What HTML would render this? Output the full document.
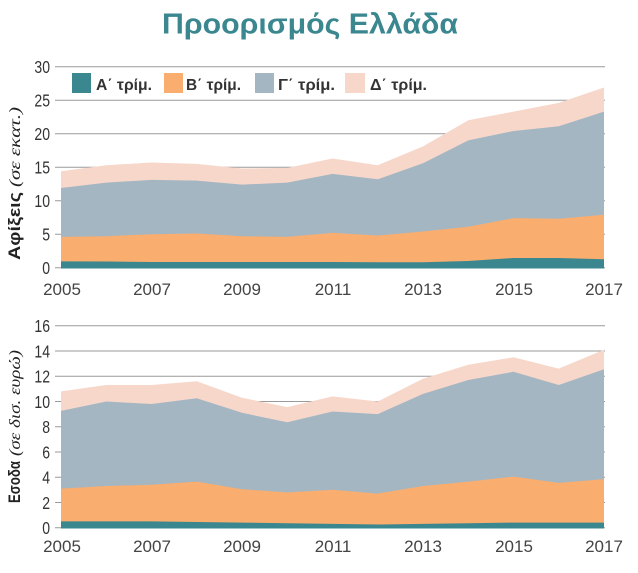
<!DOCTYPE html>
<html><head><meta charset="utf-8"><style>
html,body{margin:0;padding:0;background:#fff;}
svg{display:block;}
.yl{font-family:"Liberation Sans",sans-serif;font-size:18px;fill:#333;}
.xl{font-family:"Liberation Sans",sans-serif;font-size:17px;fill:#444;}
.lg{font-family:"Liberation Sans",sans-serif;font-size:16px;font-weight:bold;fill:#333;}
.at{font-family:"Liberation Sans",sans-serif;font-size:17px;font-weight:bold;fill:#222;}
.ai{font-family:"Liberation Serif",serif;font-size:16px;font-style:italic;fill:#222;}
</style></head><body>
<svg width="638" height="573" viewBox="0 0 638 573" xmlns="http://www.w3.org/2000/svg">
<rect width="638" height="573" fill="#fff"/>
<text x="162" y="33.5" textLength="296" lengthAdjust="spacingAndGlyphs" font-family="Liberation Sans, sans-serif" font-weight="bold" font-size="29" fill="#3b8790">Προορισμός Ελλάδα</text>

<g stroke="#9a9a9a" stroke-width="1">
<line x1="55" y1="66.7" x2="605" y2="66.7"/>
<line x1="55" y1="100.3" x2="605" y2="100.3"/>
<line x1="55" y1="133.7" x2="605" y2="133.7"/>
<line x1="55" y1="167.2" x2="605" y2="167.2"/>
<line x1="55" y1="200.7" x2="605" y2="200.7"/>
<line x1="55" y1="234.2" x2="605" y2="234.2"/>
<line x1="55" y1="267.7" x2="605" y2="267.7"/>
</g>
<polygon fill="#f7d7ca" points="61,267.7 61,171.2 106.25,165.2 151.5,162.5 196.75,163.9 242,168.5 287.25,167.9 332.5,158.5 377.75,165.2 423,146.4 468.25,120.3 513.5,111.6 558.75,102.9 604,87.5 604,267.7"/>
<polygon fill="#a5b6c3" points="61,267.7 61,188.0 106.25,182.6 151.5,179.9 196.75,180.6 242,184.6 287.25,182.6 332.5,173.9 377.75,179.3 423,163.2 468.25,140.4 513.5,131.0 558.75,126.3 604,111.6 604,267.7"/>
<polygon fill="#f9ad6e" points="61,267.7 61,236.9 106.25,236.2 151.5,234.2 196.75,233.5 242,236.2 287.25,236.9 332.5,232.9 377.75,235.5 423,231.5 468.25,226.8 513.5,218.1 558.75,218.8 604,214.8 604,267.7"/>
<polygon fill="#3a8790" points="61,268.5 61,261.4 106.25,261.5 151.5,262.0 196.75,262.0 242,262.0 287.25,262.0 332.5,262.0 377.75,262.3 423,262.3 468.25,261.0 513.5,258.0 558.75,258.0 604,259.3 604,268.5"/>

<g class="yl" text-anchor="end">
<text transform="translate(50,73) scale(0.78,1)">30</text>
<text transform="translate(50,106.6) scale(0.78,1)">25</text>
<text transform="translate(50,140) scale(0.78,1)">20</text>
<text transform="translate(50,173.5) scale(0.78,1)">15</text>
<text transform="translate(50,207) scale(0.78,1)">10</text>
<text transform="translate(50,240.5) scale(0.78,1)">5</text>
<text transform="translate(50,274) scale(0.78,1)">0</text>
</g>
<g class="xl" text-anchor="middle">
<text x="62" y="295">2005</text>
<text x="152" y="295">2007</text>
<text x="242" y="295">2009</text>
<text x="333" y="295">2011</text>
<text x="423" y="295">2013</text>
<text x="514" y="295">2015</text>
<text x="604" y="295">2017</text>
</g>
<rect x="72" y="73" width="19" height="20" fill="#3a8790"/>
<text class="lg" x="96" y="90" textLength="56" lengthAdjust="spacingAndGlyphs">Α΄ τρίμ.</text>
<rect x="164" y="73" width="19" height="20" fill="#f9ad6e"/>
<text class="lg" x="186" y="90" textLength="55" lengthAdjust="spacingAndGlyphs">Β΄ τρίμ.</text>
<rect x="255" y="73" width="19" height="20" fill="#a5b6c3"/>
<text class="lg" x="278" y="90" textLength="57" lengthAdjust="spacingAndGlyphs">Γ΄ τρίμ.</text>
<rect x="345" y="73" width="20" height="20" fill="#f7d7ca"/>
<text class="lg" x="370" y="90" textLength="57" lengthAdjust="spacingAndGlyphs">Δ΄ τρίμ.</text>

<text transform="translate(20,260) rotate(-90)"><tspan class="at" textLength="68" lengthAdjust="spacingAndGlyphs">Αφίξεις</tspan><tspan class="ai" dx="5" textLength="80" lengthAdjust="spacingAndGlyphs">(σε εκατ.)</tspan></text>

<g stroke="#9a9a9a" stroke-width="1">
<line x1="55" y1="325.7" x2="605" y2="325.7"/>
<line x1="55" y1="351.0" x2="605" y2="351.0"/>
<line x1="55" y1="376.2" x2="605" y2="376.2"/>
<line x1="55" y1="401.5" x2="605" y2="401.5"/>
<line x1="55" y1="426.7" x2="605" y2="426.7"/>
<line x1="55" y1="452.0" x2="605" y2="452.0"/>
<line x1="55" y1="477.2" x2="605" y2="477.2"/>
<line x1="55" y1="502.5" x2="605" y2="502.5"/>
<line x1="55" y1="527.7" x2="605" y2="527.7"/>
</g>
<polygon fill="#f7d7ca" points="61,527.7 61,391.4 106.25,385.0 151.5,385.0 196.75,381.3 242,397.7 287.25,407.1 332.5,396.4 377.75,401.5 423,378.7 468.25,364.8 513.5,357.3 558.75,368.6 604,349.7 604,527.7"/>
<polygon fill="#a5b6c3" points="61,527.7 61,410.9 106.25,401.5 151.5,404.0 196.75,398.3 242,412.8 287.25,422.3 332.5,411.5 377.75,414.1 423,393.9 468.25,380.0 513.5,371.8 558.75,385.0 604,369.3 604,527.7"/>
<polygon fill="#f9ad6e" points="61,527.7 61,488.6 106.25,486.0 151.5,484.8 196.75,481.6 242,489.2 287.25,492.4 332.5,489.8 377.75,493.6 423,486.0 468.25,481.6 513.5,476.6 558.75,482.9 604,479.1 604,527.7"/>
<polygon fill="#3a8790" points="61,528.5 61,521.4 106.25,521.4 151.5,521.4 196.75,522.0 242,522.6 287.25,523.3 332.5,523.9 377.75,524.5 423,523.9 468.25,523.3 513.5,522.6 558.75,522.6 604,522.6 604,528.5"/>

<g class="yl" text-anchor="end">
<text transform="translate(50,332) scale(0.78,1)">16</text>
<text transform="translate(50,357.3) scale(0.78,1)">14</text>
<text transform="translate(50,382.5) scale(0.78,1)">12</text>
<text transform="translate(50,407.8) scale(0.78,1)">10</text>
<text transform="translate(50,433) scale(0.78,1)">8</text>
<text transform="translate(50,458.3) scale(0.78,1)">6</text>
<text transform="translate(50,483.5) scale(0.78,1)">4</text>
<text transform="translate(50,508.8) scale(0.78,1)">2</text>
<text transform="translate(50,534) scale(0.78,1)">0</text>
</g>
<g class="xl" text-anchor="middle">
<text x="62" y="552">2005</text>
<text x="152" y="552">2007</text>
<text x="242" y="552">2009</text>
<text x="333" y="552">2011</text>
<text x="423" y="552">2013</text>
<text x="514" y="552">2015</text>
<text x="604" y="552">2017</text>
</g>
<text transform="translate(20,503) rotate(-90)"><tspan class="at" textLength="42" lengthAdjust="spacingAndGlyphs">Εσοδα</tspan><tspan class="ai" dx="5" textLength="106" lengthAdjust="spacingAndGlyphs">(σε δισ. ευρώ)</tspan></text>
</svg>
</body></html>
